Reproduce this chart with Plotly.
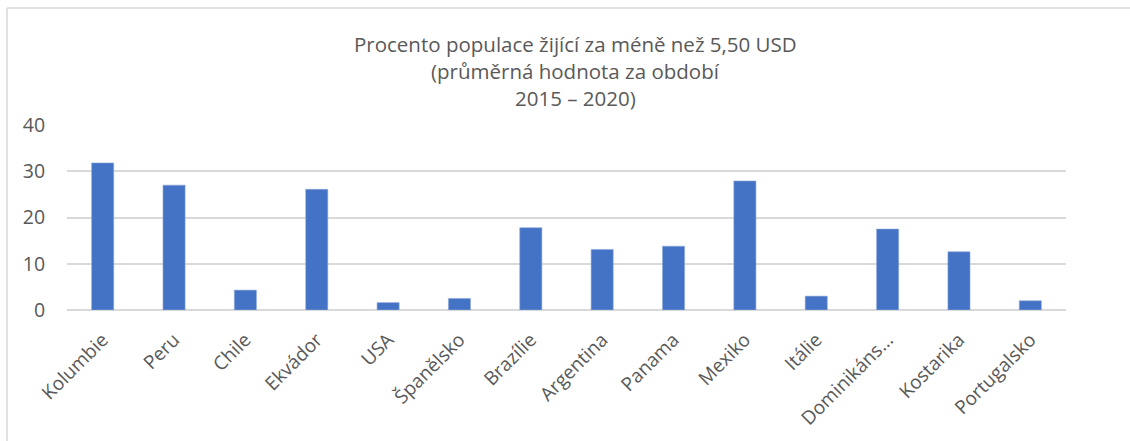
import plotly.graph_objects as go

countries = ["Kolumbie", "Peru", "Chile", "Ekvádor", "USA", "Španělsko", "Brazílie",
             "Argentina", "Panama", "Mexiko", "Itálie", "Dominikáns...", "Kostarika", "Portugalsko"]
values = [31.8, 27.0, 4.3, 26.1, 1.6, 2.5, 17.8, 13.1, 13.8, 27.9, 3.0, 17.5, 12.6, 2.0]
y_ticks = [0, 10, 20, 30, 40]
title_lines = ["Procento populace žijící za méně než 5,50 USD",
               "(průměrná hodnota za období",
               "2015 – 2020)"]

W, H = 1130, 441
ml, mr, mt, mb = 67, 64, 125, 131
pw, ph = W - ml - mr, H - mt - mb
FONT = "Open Sans, Lato, sans-serif"
GREY = "#595959"

fig = go.Figure()
fig.add_trace(go.Bar(
    x=countries, y=values,
    marker=dict(color="#4472C4", line=dict(color="#8faadc", width=0.6)),
))

fig.update_layout(
    width=W, height=H,
    margin=dict(l=ml, r=mr, t=mt, b=mb, autoexpand=False),
    paper_bgcolor="white", plot_bgcolor="white",
    bargap=0.69,
    showlegend=False,
    font=dict(family=FONT, color=GREY),
)

# title, one line at a time so the line spacing matches
for line, ypx in zip(title_lines, [44, 71, 98]):
    fig.add_annotation(text=line, xref="paper", yref="paper",
                       x=(575 - ml) / pw, y=(H - mb - ypx) / ph,
                       xanchor="center", yanchor="middle", showarrow=False,
                       font=dict(size=20.5, color=GREY, family=FONT))

fig.update_xaxes(
    tickangle=-45, tickfont=dict(size=19, color=GREY),
    showgrid=False, showline=False, ticks="", automargin=False,
    ticklabelstandoff=14,
)
fig.update_yaxes(
    range=[0, 40], tickvals=y_ticks, tickfont=dict(size=19.5, color=GREY),
    showgrid=True, gridcolor="#d9d9d9", gridwidth=1.5,
    zeroline=True, zerolinecolor="#d9d9d9", zerolinewidth=1.5,
    ticks="outside", ticklen=17, tickcolor="white", automargin=False,
)

# chart frame (only top and left edges are visible in the picture)
px0 = (7 - ml) / pw
py0 = 1 + (mt - 8) / ph
fig.add_shape(type="line", xref="paper", yref="paper", x0=px0, x1=2, y0=py0, y1=py0,
              line=dict(color="#d9d9d9", width=1.5))
fig.add_shape(type="line", xref="paper", yref="paper", x0=px0, x1=px0, y0=py0, y1=-2,
              line=dict(color="#d9d9d9", width=1.5))

# drop the browser's default body margin so the figure sits at the page corner
fig.write_html("out.html", config={"displayModeBar": False},
               post_script="document.body.style.margin='0';")
